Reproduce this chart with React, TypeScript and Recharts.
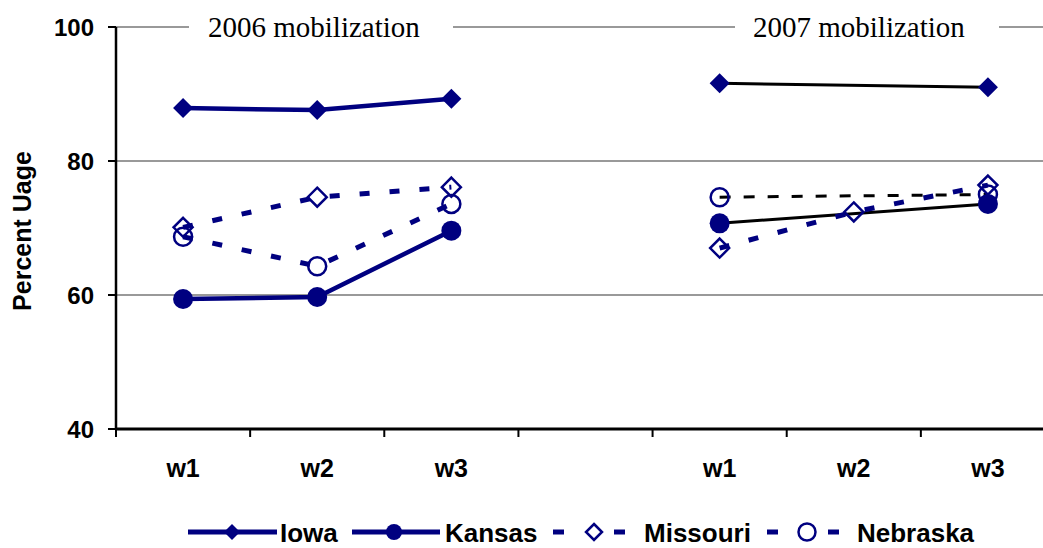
import React from "react";
import { LineChart, Line, XAxis, YAxis, CartesianGrid, Label } from "recharts";

// categories: three waves per mobilization year, with an empty slot between years
const slots = ["2006-w1", "2006-w2", "2006-w3", "gap", "2007-w1", "2007-w2", "2007-w3"];
const slotLabels = ["w1", "w2", "w3", "", "w1", "w2", "w3"];
const yTicks = [40, 60, 80, 100];
const periodTitles = ["2006 mobilization", "2007 mobilization"];

// percent usage per state
const iowa2006 = [87.9, 87.6, 89.3];
const kansas2006 = [59.4, 59.7, 69.6];
const missouri2006 = [70.1, 74.6, 76.1];
const nebraska2006 = [68.7, 64.3, 73.6];

const iowa2007 = [91.6, null, 91.0];
const kansas2007 = [70.7, null, 73.6];
const missouri2007 = [67.0, 72.4, 76.4];
const nebraska2007 = [74.6, null, 75.0];

const data = slots.map((slot, i) => {
  const a = i < 3 ? i : -1;
  const b = i >= 4 ? i - 4 : -1;
  return {
    slot,
    iowa06: a >= 0 ? iowa2006[a] : null,
    kansas06: a >= 0 ? kansas2006[a] : null,
    missouri06: a >= 0 ? missouri2006[a] : null,
    nebraska06: a >= 0 ? nebraska2006[a] : null,
    iowa07: b >= 0 ? iowa2007[b] : null,
    kansas07: b >= 0 ? kansas2007[b] : null,
    missouri07: b >= 0 ? missouri2007[b] : null,
    nebraska07: b >= 0 ? nebraska2007[b] : null,
  };
});

const NAVY = "#000080";
const SANS = '"Liberation Sans", Arial, sans-serif';
const SERIF = '"Liberation Serif", "Times New Roman", serif';

const CHART_W = 1055;
const CHART_H = 548;
const Y_AXIS_W = 116;
const CAT_W = (CHART_W - Y_AXIS_W) / slots.length;

const diamondPath = (cx: number, cy: number, h: number) =>
  `M${cx},${cy - h} L${cx + h},${cy} L${cx},${cy + h} L${cx - h},${cy} Z`;

const makeDot = (shape: "diamond" | "circle", filled: boolean, size: number) => (props: any) => {
  const { cx, cy, index } = props;
  if (typeof cy !== "number" || isNaN(cy) || props.value == null) return <g key={index} />;
  const fill = filled ? NAVY : "none";
  const sw = filled ? 0 : 2.5;
  if (shape === "diamond") {
    return <path key={index} d={diamondPath(cx, cy, size)} fill={fill} stroke={NAVY} strokeWidth={sw} />;
  }
  return <circle key={index} cx={cx} cy={cy} r={size} fill={fill} stroke={NAVY} strokeWidth={sw} />;
};

const XTick = (props: any) => {
  const { x, y, payload } = props;
  const idx = slots.indexOf(payload.value);
  const bx = x - CAT_W / 2;
  return (
    <g>
      <line x1={bx} x2={bx} y1={y - 8} y2={y} stroke="#000" strokeWidth={2} />
      <text x={x} y={y + 31} textAnchor="middle" dominantBaseline="central"
        fontFamily={SANS} fontWeight="bold" fontSize={25} fill="#000">
        {slotLabels[idx]}
      </text>
    </g>
  );
};

const titleBoxes = [
  { left: 189, width: 264, pad: 19 },
  { left: 735, width: 264, pad: 18 },
];

function LegendRow() {
  const text = (left: number, w: number, s: string) => (
    <div style={{ position: "absolute", left, top: 0, width: w, fontFamily: SANS, fontWeight: "bold", fontSize: 26, lineHeight: "30px", color: "#000", whiteSpace: "nowrap" }}>{s}</div>
  );
  return (
    <div style={{ position: "absolute", left: 0, top: 518, width: 1043, height: 30 }}>
      <svg style={{ position: "absolute", left: 0, top: 0 }} width={1043} height={30}>
        <line x1={188} x2={277} y1={14} y2={14} stroke={NAVY} strokeWidth={5} />
        <path d={diamondPath(232, 14, 8)} fill={NAVY} />
        <line x1={352} x2={440} y1={14} y2={14} stroke={NAVY} strokeWidth={5} />
        <circle cx={394} cy={14} r={8} fill={NAVY} />
        <rect x={553} y={11.5} width={11} height={5} fill={NAVY} />
        <path d={diamondPath(594, 14, 8)} fill="none" stroke={NAVY} strokeWidth={2.5} />
        <rect x={614} y={11.5} width={11} height={5} fill={NAVY} />
        <rect x={767} y={11.5} width={11} height={5} fill={NAVY} />
        <circle cx={807} cy={14} r={8.5} fill="none" stroke={NAVY} strokeWidth={2.5} />
        <rect x={828} y={11.5} width={11} height={5} fill={NAVY} />
      </svg>
      {text(280, 64, "Iowa")}
      {text(445, 100, "Kansas")}
      {text(644, 116, "Missouri")}
      {text(857, 126, "Nebraska")}
    </div>
  );
}

export default function App() {
  return (
    <div style={{ position: "absolute", left: 0, top: 0, width: 1043, height: 548, overflow: "hidden", background: "#fff" }}>
      <LineChart width={CHART_W} height={CHART_H} data={data} margin={{ top: 27, right: 0, bottom: 59, left: 0 }}>
        <CartesianGrid vertical={false} stroke="#999" strokeWidth={2} />
        <XAxis dataKey="slot" interval={0} height={60} tickSize={8} tickMargin={0}
          padding={{ left: CAT_W / 2, right: CAT_W / 2 }}
          tickLine={false} axisLine={{ stroke: "#000", strokeWidth: 3 }} tick={<XTick />} />
        <YAxis domain={[40, 100]} ticks={yTicks} width={Y_AXIS_W} tickSize={8} tickMargin={14}
          axisLine={{ stroke: "#000", strokeWidth: 2.5 }} tickLine={{ stroke: "#000", strokeWidth: 2 }}
          tick={{ fill: "#000", fontSize: 24, fontWeight: "bold", fontFamily: SANS }}>
          <Label content={(p: any) => {
            const vb = p.viewBox;
            const cy = vb.y + vb.height / 2 + 3;
            return (
              <text x={vb.x + 22} y={cy} transform={`rotate(-90 ${vb.x + 22} ${cy})`} textAnchor="middle"
                dominantBaseline="central" fontFamily={SANS} fontWeight="bold" fontSize={25} fill="#000">
                Percent Uage
              </text>
            );
          }} />
        </YAxis>

        <Line dataKey="iowa06" stroke={NAVY} strokeWidth={4.5} dot={makeDot("diamond", true, 10)} activeDot={false} isAnimationActive={false} />
        <Line dataKey="kansas06" stroke={NAVY} strokeWidth={4.5} dot={makeDot("circle", true, 10)} activeDot={false} isAnimationActive={false} />
        <Line dataKey="missouri06" stroke={NAVY} strokeWidth={5} strokeDasharray="10 20" dot={makeDot("diamond", false, 9.5)} activeDot={false} isAnimationActive={false} />
        <Line dataKey="nebraska06" stroke={NAVY} strokeWidth={5} strokeDasharray="10 20" dot={makeDot("circle", false, 9)} activeDot={false} isAnimationActive={false} />

        <Line dataKey="iowa07" connectNulls stroke="#000" strokeWidth={3} dot={makeDot("diamond", true, 10)} activeDot={false} isAnimationActive={false} />
        <Line dataKey="kansas07" connectNulls stroke="#000" strokeWidth={3} dot={makeDot("circle", true, 10)} activeDot={false} isAnimationActive={false} />
        <Line dataKey="missouri07" stroke={NAVY} strokeWidth={5} strokeDasharray="10 20" dot={makeDot("diamond", false, 9.5)} activeDot={false} isAnimationActive={false} />
        <Line dataKey="nebraska07" connectNulls stroke="#000" strokeWidth={3} strokeDasharray="11 13" dot={makeDot("circle", false, 9)} activeDot={false} isAnimationActive={false} />
      </LineChart>

      {periodTitles.map((t, i) => (
        <div key={t} style={{
          position: "absolute", left: titleBoxes[i].left, top: 12.7, width: titleBoxes[i].width, height: 29,
          paddingLeft: titleBoxes[i].pad, boxSizing: "border-box", background: "#fff",
          fontFamily: SERIF, fontSize: 29, lineHeight: "29px", color: "#000", whiteSpace: "nowrap",
        }}>{t}</div>
      ))}

      <LegendRow />
    </div>
  );
}
